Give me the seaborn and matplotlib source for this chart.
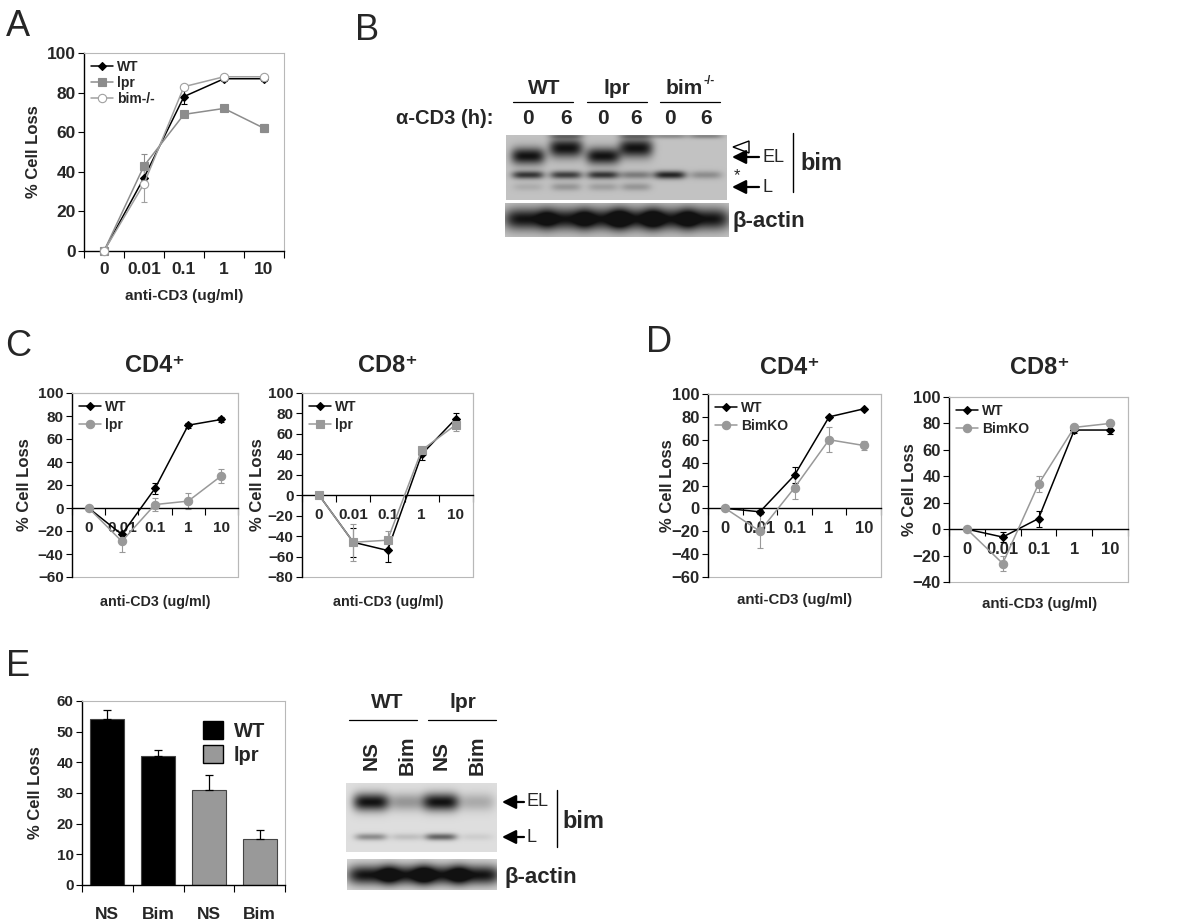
import numpy as np
import matplotlib.pyplot as plt
import seaborn as sns
from matplotlib.patches import Rectangle, Patch, Polygon

sns.set_theme(style="white")
plt.rcParams["font.family"] = ["Liberation Sans", "DejaVu Sans"]
plt.rcParams["font.weight"] = "bold"

# ----------------------------------------------------------------
# DATA
# ----------------------------------------------------------------
doses = ["0", "0.01", "0.1", "1", "10"]

# A: total cells
a_wt = [0, 37, 78, 87, 87]
a_wt_err = [0, 4, 4, 1, 1]
a_lpr = [0, 43, 69, 72, 62]
a_lpr_err = [0, 6, 1, 1, 2]
a_bim = [0, 34, 83, 88, 88]
a_bim_err = [0, 9, 1, 1, 1]

# C: WT vs lpr
c4_wt = [0, -23, 17, 72, 77]
c4_wt_err = [0, 3, 5, 2, 2]
c4_lpr = [0, -29, 3, 6, 28]
c4_lpr_err = [0, 9, 6, 7, 6]
c8_wt = [0, -46, -54, 40, 75]
c8_wt_err = [0, 14, 11, 6, 5]
c8_lpr = [0, -46, -44, 44, 69]
c8_lpr_err = [0, 18, 9, 3, 6]

# D: WT vs BimKO
d4_wt = [0, -3, 29, 80, 87]
d4_wt_err = [0, 2, 7, 1, 1]
d4_ko = [0, -20, 18, 60, 55]
d4_ko_err = [0, 15, 10, 11, 4]
d8_wt = [0, -6, 8, 75, 75]
d8_wt_err = [0, 4, 6, 2, 3]
d8_ko = [0, -26, 34, 77, 80]
d8_ko_err = [0, 6, 6, 1, 1]

# E: siRNA bars
e_ids = ["WT NS", "WT Bim", "lpr NS", "lpr Bim"]
e_labels = ["NS", "Bim", "NS", "Bim"]
e_groups = ["WT", "WT", "lpr", "lpr"]
e_vals = [54, 42, 31, 15]
e_errs = [3, 2, 5, 3]

# B blot: band intensities per lane
b_lanes = ["0", "6", "0", "6", "0", "6"]
b_el = [1.0, 0.0, 1.0, 0.0, 0.0, 0.0]
b_el_shift = [0.0, 1.0, 0.0, 1.0, 0.0, 0.0]
b_top = [0.0, 0.35, 0.0, 0.35, 0.3, 0.35]
b_star = [0.8, 0.75, 0.8, 0.4, 0.9, 0.3]
b_l = [0.12, 0.25, 0.2, 0.25, 0.0, 0.0]
b_actin = [1.0, 1.0, 1.0, 1.0, 1.0, 1.0]

# E blot
e_lanes = ["NS", "Bim", "NS", "Bim"]
e_el = [1.0, 0.35, 1.0, 0.25]
e_l = [0.4, 0.15, 0.6, 0.08]
e_actin = [1.0, 1.0, 1.0, 1.0]

BLACK = "black"
GRAY = "#999999"

# ----------------------------------------------------------------
# FIGURE HELPERS (pixel layout)
# ----------------------------------------------------------------
W, H = 1200, 924
fig = plt.figure(figsize=(12, 9.24), dpi=100)


def rect(x0, y0, x1, y1):
    return [x0 / W, 1 - y1 / H, (x1 - x0) / W, (y1 - y0) / H]


def frame(ax, zero_line):
    for s in ["top", "right", "bottom"]:
        ax.spines[s].set_color("#b8b8b8")
        ax.spines[s].set_linewidth(0.8)
    ax.spines["left"].set_color("black")
    ax.spines["left"].set_linewidth(1.0)
    if zero_line:
        ax.add_patch(Rectangle((0, 0), 1, 1, transform=ax.transAxes, fill=False,
                               edgecolor="#b8b8b8", linewidth=0.8, clip_on=False))
        ax.spines["bottom"].set_position(("data", 0))
    ax.spines["bottom"].set_color("black")
    ax.spines["bottom"].set_linewidth(1.0)


def line_panel(box, series, ylim, ystep, zero_line, pad, tsize, lspace):
    ax = fig.add_axes(rect(*box))
    xs = np.arange(len(doses))
    for name, vals, errs, color, marker, mfc, ms in series:
        ax.errorbar(xs, vals, yerr=errs, fmt="none", ecolor=color, elinewidth=0.8,
                    capsize=2, capthick=0.8, clip_on=False, zorder=2)
        sns.lineplot(x=xs, y=vals, ax=ax, color=color, marker=marker, markersize=ms,
                     markerfacecolor=mfc, markeredgecolor=color, markeredgewidth=0.8,
                     linewidth=1.1, label=name, clip_on=False, zorder=3)
    ax.set_xlim(-0.5, len(doses) - 0.5)
    ax.set_ylim(*ylim)
    ax.set_yticks(np.arange(ylim[0], ylim[1] + 1, ystep))
    ax.set_xticks(xs)
    ax.set_xticklabels(doses)
    ax.set_xticks(np.arange(-0.5, len(doses), 1), minor=True)
    ax.tick_params(axis="x", which="major", length=0, pad=pad, labelsize=tsize)
    ax.tick_params(axis="x", which="minor", bottom=True, length=5, width=0.8,
                   direction="out", color="black")
    ax.tick_params(axis="y", left=True, length=4, width=0.8, direction="out",
                   color="black", labelsize=tsize, pad=2)
    ax.set_xlabel("")
    ax.set_ylabel("")
    frame(ax, zero_line)
    ax.legend(loc="upper left", frameon=False, prop={"weight": "bold", "size": 10},
              handlelength=1.6, labelspacing=lspace, handletextpad=0.3,
              borderaxespad=0.3, borderpad=0.2)
    return ax


def draw_blot(box, lane_x, bands, bg):
    x0, y0, x1, y1 = box
    ax = fig.add_axes(rect(*box))
    w, h = x1 - x0, y1 - y0
    xx, yy = np.meshgrid(np.linspace(0, w, w * 3), np.linspace(0, h, h * 3))
    dark = np.zeros_like(xx)
    for yc, amps, hw, hh in bands:
        for xc, a in zip(lane_x, amps):
            dark += a * np.exp(-(np.abs(xx - (xc - x0)) / hw) ** 4
                               - ((yy - (yc - y0)) / hh) ** 2)
    img = bg - (bg - 0.07) * np.clip(dark, 0, 1)
    ax.imshow(img, cmap="gray", vmin=0, vmax=1, aspect="auto",
              extent=(0, w, h, 0), interpolation="bilinear")
    ax.set_axis_off()
    return ax


# ----------------------------------------------------------------
# A
# ----------------------------------------------------------------
line_panel((84, 53, 284, 251), [
    ("WT", a_wt, a_wt_err, BLACK, "D", BLACK, 4),
    ("lpr", a_lpr, a_lpr_err, "#8c8c8c", "s", "#8c8c8c", 5.5),
    ("bim-/-", a_bim, a_bim_err, "#a0a0a0", "o", "white", 6),
], (0, 100), 20, False, 8, 12.5, 0.15)

# ----------------------------------------------------------------
# C
# ----------------------------------------------------------------
line_panel((72, 393, 238, 577), [
    ("WT", c4_wt, c4_wt_err, BLACK, "D", BLACK, 4),
    ("lpr", c4_lpr, c4_lpr_err, GRAY, "o", GRAY, 6),
], (-60, 100), 20, True, 9, 11, 0.3)
line_panel((302, 393, 473, 577), [
    ("WT", c8_wt, c8_wt_err, BLACK, "D", BLACK, 4),
    ("lpr", c8_lpr, c8_lpr_err, GRAY, "s", GRAY, 5.5),
], (-80, 100), 20, True, 9, 11, 0.3)

# ----------------------------------------------------------------
# D
# ----------------------------------------------------------------
line_panel((708, 394, 881, 577), [
    ("WT", d4_wt, d4_wt_err, BLACK, "D", BLACK, 4),
    ("BimKO", d4_ko, d4_ko_err, GRAY, "o", GRAY, 6),
], (-60, 100), 20, True, 9, 12, 0.3)
line_panel((949, 397, 1128, 582), [
    ("WT", d8_wt, d8_wt_err, BLACK, "D", BLACK, 4),
    ("BimKO", d8_ko, d8_ko_err, GRAY, "o", GRAY, 6),
], (-40, 100), 20, True, 9, 12, 0.3)

# ----------------------------------------------------------------
# E bars
# ----------------------------------------------------------------
ax_e = fig.add_axes(rect(82, 701, 285, 885))
sns.barplot(x=e_ids, y=e_vals, hue=e_groups, palette={"WT": BLACK, "lpr": GRAY},
            dodge=False, width=0.67, edgecolor="#444444", linewidth=0.8,
            legend=False, ax=ax_e)
ax_e.errorbar(np.arange(len(e_vals)), e_vals, yerr=[np.zeros(len(e_errs)), e_errs],
              fmt="none", ecolor="black", elinewidth=0.9, capsize=3, capthick=0.9)
ax_e.set_ylim(0, 60)
ax_e.set_yticks(range(0, 61, 10))
ax_e.set_xlim(-0.5, 3.5)
ax_e.set_xticks(range(len(e_labels)))
ax_e.set_xticklabels(e_labels)
ax_e.set_xticks(np.arange(-0.5, 4, 1), minor=True)
ax_e.tick_params(axis="x", which="major", length=0, pad=16, labelsize=12.5)
ax_e.tick_params(axis="x", which="minor", bottom=True, length=5, width=0.8,
                 direction="out", color="black")
ax_e.tick_params(axis="y", left=True, length=4, width=0.8, direction="out",
                 color="black", labelsize=11, pad=2)
ax_e.set_xlabel("")
ax_e.set_ylabel("")
frame(ax_e, False)
ax_e.legend(handles=[Patch(facecolor=BLACK, edgecolor="black", label="WT"),
                     Patch(facecolor=GRAY, edgecolor="black", label="lpr")],
            loc="upper right", frameon=False, prop={"weight": "bold", "size": 14.5},
            handlelength=1.0, handleheight=1.0, labelspacing=0.2,
            handletextpad=0.5, borderaxespad=0.6)

# ----------------------------------------------------------------
# Blots
# ----------------------------------------------------------------
b_x = [528, 566, 603, 636, 670, 706]
draw_blot((506, 135, 727, 200), b_x, [
    (136, b_top, 17, 2.5),
    (156, b_el, 17, 8.5),
    (148, b_el_shift, 17, 9.5),
    (175, b_star, 16, 4),
    (187, b_l, 15, 4),
], 0.76)
draw_blot((505, 203, 729, 237), b_x, [(219, b_actin, 24, 11)], 0.77)

e_x = [371, 407, 441, 477]
draw_blot((346, 783, 497, 852), e_x, [
    (802, e_el, 18, 9),
    (837, e_l, 16, 3.5),
], 0.87)
draw_blot((347, 859, 497, 890), e_x, [(875, e_actin, 24, 10)], 0.85)

# ----------------------------------------------------------------
# Overlay: labels, arrows, lines (pixel coordinates)
# ----------------------------------------------------------------
ov = fig.add_axes([0, 0, 1, 1])
ov.set_xlim(0, W)
ov.set_ylim(H, 0)
ov.set_axis_off()


def t(x, y, s, size=11, weight="bold", ha="center", va="center", **kw):
    ov.text(x, y, s, fontsize=size, fontweight=weight, ha=ha, va=va, **kw)


# panel letters
for letter, (x, y) in {"A": (6, 26), "B": (355, 30), "C": (5, 347),
                       "D": (646, 343), "E": (6, 666)}.items():
    t(x, y, letter, size=26, weight="normal", ha="left")

# axis labels
for x, y in [(33, 152), (25, 485), (258, 485), (667, 486), (909, 490), (35, 793)]:
    t(x, y, "% Cell Loss", size=12, rotation=90)
t(184, 296, "anti-CD3 (ug/ml)", size=11)
for x, y in [(155, 602), (388, 602)]:
    t(x, y, "anti-CD3 (ug/ml)", size=10.3)
for x, y in [(795, 600), (1040, 604)]:
    t(x, y, "anti-CD3 (ug/ml)", size=10.8)

# titles
for x, y, s in [(155, 365, "CD4⁺"), (388, 365, "CD8⁺"),
                (790, 367, "CD4⁺"), (1040, 368, "CD8⁺")]:
    t(x, y, s, size=17)

# B header
t(544, 88, "WT", size=15)
t(617, 88, "lpr", size=15)
t(703, 88, "bim", size=15, ha="right")
t(704, 81, "-/-", size=8.5, ha="left")
for x0, x1 in [(513, 573), (587, 647), (660, 720)]:
    ov.plot([x0, x1], [102, 102], color="black", lw=0.9)
t(493, 119, "α-CD3 (h):", size=14.5, ha="right")
for x, s in zip(b_x, b_lanes):
    t(x, 119, s, size=15)

arrow = dict(arrowstyle="-|>,head_length=0.7,head_width=0.35", color="black",
             lw=1.6, shrinkA=0, shrinkB=0)
ov.add_patch(Polygon([[733, 147], [749, 141], [749, 153]], closed=True,
                     fill=False, edgecolor="black", lw=1.0))
ov.annotate("", xy=(732, 157), xytext=(759, 157), arrowprops=arrow)
t(762, 157, "EL", size=13, weight="normal", ha="left")
t(737, 176, "*", size=12, weight="normal")
ov.annotate("", xy=(732, 187), xytext=(759, 187), arrowprops=arrow)
t(762, 187, "L", size=13, weight="normal", ha="left")
ov.plot([793, 793], [133, 192], color="black", lw=1.0)
t(800, 163, "bim", size=17, ha="left")
t(733, 221, "β-actin", size=16, ha="left")

# E blot header
t(387, 703, "WT", size=15)
t(463, 703, "lpr", size=15)
for x0, x1 in [(349, 417), (428, 496)]:
    ov.plot([x0, x1], [720, 720], color="black", lw=0.9)
for x, s in zip(e_x, e_lanes):
    t(x, 755, s, size=15, rotation=90)
ov.annotate("", xy=(502, 802), xytext=(524, 802), arrowprops=arrow)
t(527, 802, "EL", size=13, weight="normal", ha="left")
ov.annotate("", xy=(502, 837), xytext=(524, 837), arrowprops=arrow)
t(527, 837, "L", size=13, weight="normal", ha="left")
ov.plot([557, 557], [790, 847], color="black", lw=1.0)
t(562, 822, "bim", size=17, ha="left")
t(505, 877, "β-actin", size=16, ha="left")

fig.savefig("out.png", dpi=100)
